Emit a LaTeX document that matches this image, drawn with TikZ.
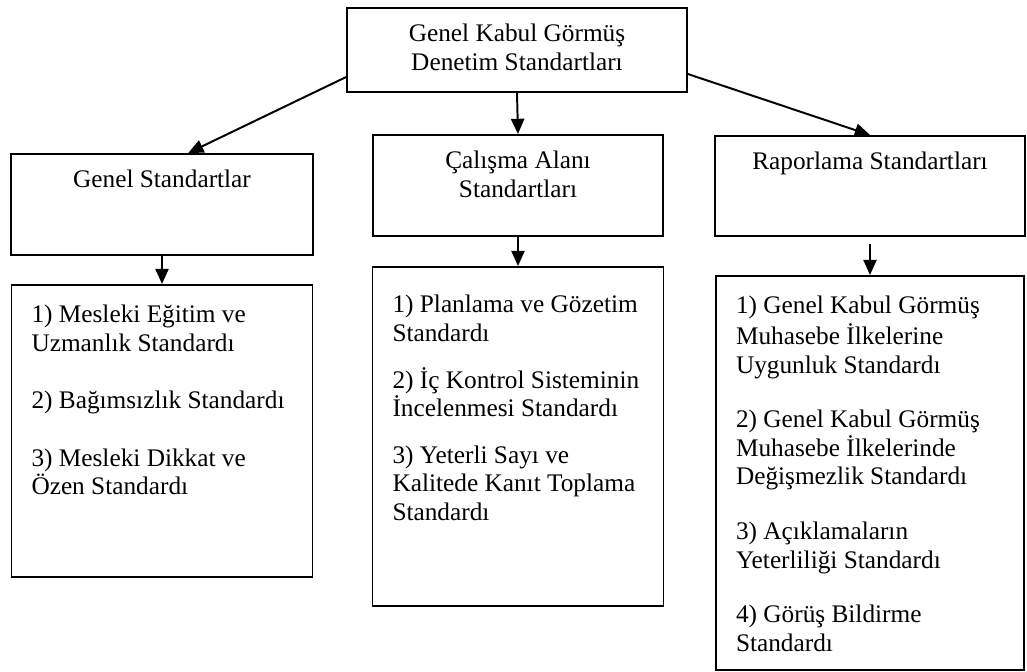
\documentclass[tikz,border=0pt]{standalone}
\usepackage{fontspec}
\setmainfont{Liberation Serif}
\usetikzlibrary{arrows.meta,positioning}

\newcommand{\headtext}[3]{\parbox[c][#2][t]{#1}{\centering\vspace*{0.35cm}\strut #3}}
\newcommand{\listtext}[4][0.45cm]{\parbox[c][#3][t]{#2}{\raggedright\leftskip=0.5cm\vspace*{#1}\strut #4}}

\begin{document}
\begin{tikzpicture}[->,>={Triangle[length=3.8mm,width=3.3mm]},line width=1.4pt,
 block/.style={draw,rectangle,inner sep=0pt,font=\fontsize{18}{20.3}\selectfont},
 listblock/.style={block}]
 \useasboundingbox (0,0) rectangle (25.675,-16.8);

 % top box and the three groups
 \node[block] (top) at (12.925,-1.25) {\headtext{8.5cm}{2.1cm}{Genel Kabul Görmüş\\Denetim Standartları}};
 \node[block] (genel) at (4.05,-5.1125) {\headtext{7.55cm}{2.525cm}{Genel Standartlar}};
 \node[block] (calisma) at (12.95,-4.6375) {\headtext{7.25cm}{2.525cm}{Çalışma Alanı\\Standartları}};
 \node[block] (rapor) at (21.75,-4.65) {\headtext{7.75cm}{2.5cm}{Raporlama Standartları}};

 % standards under each group
 \node[listblock] (genelst) [below=0.7cm of genel] {\listtext{7.525cm}{7.3cm}{1) Mesleki Eğitim ve\\Uzmanlık Standardı\\[0.72cm]2) Bağımsızlık Standardı\\[0.72cm]3) Mesleki Dikkat ve\\Özen Standardı}};
 \node[listblock] (calismast) [below=0.725cm of calisma] {\listtext[0.65cm]{7.275cm}{8.475cm}{1) Planlama ve Gözetim\\Standardı\\[0.45cm]2) İç Kontrol Sisteminin\\İncelenmesi Standardı\\[0.45cm]3) Yeterli Sayı ve\\Kalitede Kanıt Toplama\\Standardı}};
 \node[listblock] (raporst) [below=0.95cm of rapor] {\listtext{7.7cm}{9.85cm}{1) Genel Kabul Görmüş\\Muhasebe İlkelerine\\Uygunluk Standardı\\[0.65cm]2) Genel Kabul Görmüş\\Muhasebe İlkelerinde\\Değişmezlik Standardı\\[0.65cm]3) Açıklamaların\\Yeterliliği Standardı\\[0.65cm]4) Görüş Bildirme\\Standardı}};

 % arrows between the boxes
 \path
 (top.189) edge (genel.63)
 (top.south) edge (calisma.north)
 (top.-8.5) edge (rapor.north)
 (genel.south) edge (genelst.north)
 (calisma.south) edge (calismast.north)
 (rapor.south) edge [shorten <=0.18cm] (raporst.north);
\end{tikzpicture}
\end{document}
